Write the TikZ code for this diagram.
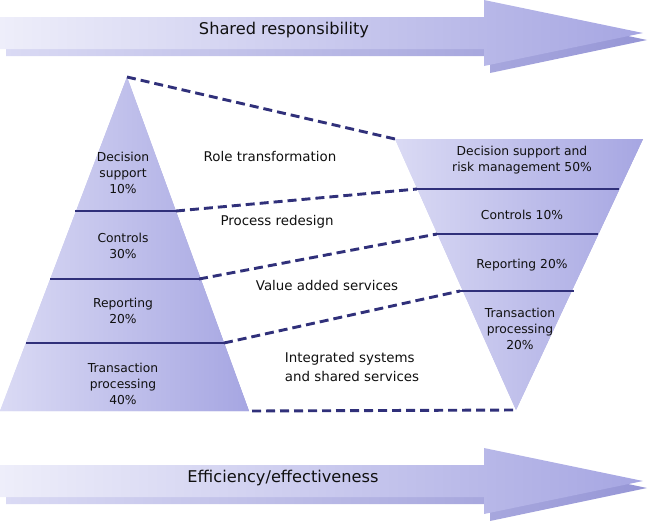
\documentclass[tikz,border=0pt]{standalone}
\usepackage{fontspec}
\setmainfont{DejaVu Sans}
\usetikzlibrary{positioning, calc}
\definecolor{clrlight}{HTML}{EEEEFA}
\definecolor{clrpale}{HTML}{DADAF4}
\definecolor{clrdark}{HTML}{A6A6E2}
\definecolor{clrshadow}{HTML}{9696D6}
\definecolor{clrline}{HTML}{30307A}
\definecolor{clrtext}{HTML}{101010}

\begin{document}
\begin{tikzpicture}[
    x=1pt, y=-1pt,
    every node/.style={text=clrtext, align=center, inner sep=0pt},
    layer/.style={font=\fontsize{12.3}{16}\selectfont},
    label/.style={font=\fontsize{13.4}{19}\selectfont},
    banner/.style={font=\fontsize{16.2}{18}\selectfont},
    band/.style={line width=2.9pt, color=clrline},
    link/.style={line width=2.9pt, color=clrline, dash pattern=on 9pt off 5pt},
    arrowshape/.style={left color=clrlight, right color=clrdark},
    arrowshadow/.style={left color=clrpale, right color=clrshadow},
]
\useasboundingbox (0,0) rectangle (650,522);

% banner arrows
\shade[arrowshadow, shift={(6,7)}] (0,17) -- (484,17) -- (484,0) -- (641,33) -- (484,66) -- (484,49) -- (0,49) -- cycle;
\shade[arrowshape] (0,17) -- (484,17) -- (484,0) -- (643,33) -- (484,66) -- (484,49) -- (0,49) -- cycle;
\node[banner] (top_title) at (284,30) {Shared responsibility};

\shade[arrowshadow, shift={(6,7)}] (0,465) -- (484,465) -- (484,448) -- (641,481) -- (484,514) -- (484,497) -- (0,497) -- cycle;
\shade[arrowshape] (0,465) -- (484,465) -- (484,448) -- (643,481) -- (484,514) -- (484,497) -- (0,497) -- cycle;
\node[banner] (bottom_title) at (283,478) {Efficiency/effectiveness};

% left pyramid
\coordinate (lp_apex) at (127,77);
\coordinate (lp_bl) at (0,411);
\coordinate (lp_br) at (249,411);
\shade[left color=clrpale, right color=clrshadow, shift={(4,6)}] (lp_apex) -- (lp_bl) -- (lp_br) -- cycle;
\shade[left color=clrpale, right color=clrdark] (lp_apex) -- (lp_bl) -- (lp_br) -- cycle;
\coordinate (lp_1l) at (75,211);
\coordinate (lp_1r) at (176,211);
\coordinate (lp_2l) at (50,279);
\coordinate (lp_2r) at (199,279);
\coordinate (lp_3l) at (26,343);
\coordinate (lp_3r) at (224,343);
\draw[band] (lp_1l) -- (lp_1r);
\draw[band] (lp_2l) -- (lp_2r);
\draw[band] (lp_3l) -- (lp_3r);
\node[layer] (lp_t1) at (123,173) {Decision\\support\\10\%};
\node[layer] (lp_t2) at (123,246) {Controls\\30\%};
\node[layer] (lp_t3) at (123,311) {Reporting\\20\%};
\node[layer] (lp_t4) at (123,384) {Transaction\\processing\\40\%};

% right pyramid
\coordinate (rp_tl) at (395,139);
\coordinate (rp_tr) at (643,139);
\coordinate (rp_tip) at (516,410);
\shade[left color=clrpale, right color=clrshadow, shift={(5,5)}] (rp_tl) -- (rp_tr) -- (rp_tip) -- cycle;
\shade[left color=clrpale, right color=clrdark] (rp_tl) -- (rp_tr) -- (rp_tip) -- cycle;
\coordinate (rp_1l) at (417,189);
\coordinate (rp_1r) at (619,189);
\coordinate (rp_2l) at (437,234);
\coordinate (rp_2r) at (598,234);
\coordinate (rp_3l) at (460,291);
\coordinate (rp_3r) at (574,291);
\draw[band] (rp_1l) -- (rp_1r);
\draw[band] (rp_2l) -- (rp_2r);
\draw[band] (rp_3l) -- (rp_3r);
\node[layer] (rp_t1) at (522,160) {Decision support and\\risk management 50\%};
\node[layer] (rp_t2) at (522,215) {Controls 10\%};
\node[layer] (rp_t3) at (522,265) {Reporting 20\%};
\node[layer] (rp_t4) at (520,329) {Transaction\\processing\\20\%};

% links between the pyramids
\draw[link] (lp_apex) -- (rp_tl);
\draw[link] (lp_1r) -- (rp_1l);
\draw[link] (lp_2r) -- (rp_2l);
\draw[link] (lp_3r) -- (rp_3l);
\draw[link] ([xshift=3pt]lp_br) -- (rp_tip);

\node[label] (role) at (270,157) {Role transformation};
\node[label] (process) at (277,222) {Process redesign};
\node[label] (value) at (327,285) {Value added services};
\node[label, align=left] (integrated) at (352,367) {Integrated systems\\and shared services};
\end{tikzpicture}
\end{document}
